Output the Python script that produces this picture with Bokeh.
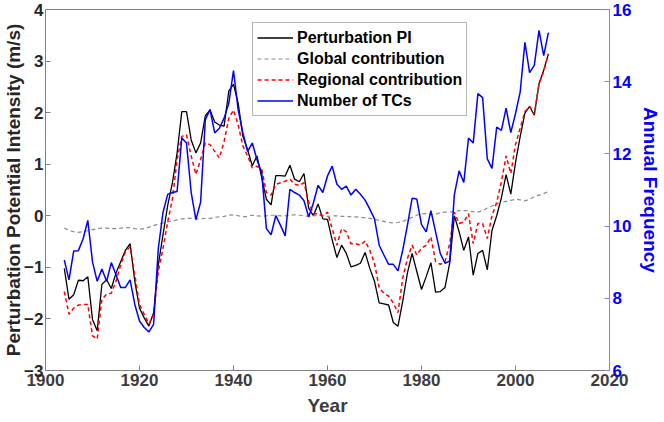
from bokeh.plotting import figure
from bokeh.models import Range1d, LinearAxis, FixedTicker, Legend, LegendItem
from bokeh.embed import file_html
from bokeh.resources import INLINE

years = list(range(1904, 2008))

pert_pi = [-1.02, -1.62, -1.53, -1.25, -1.26, -1.18, -2.01, -2.23, -1.33, -1.24,
           -1.41, -1.11, -0.89, -0.67, -0.54, -1.27, -1.79, -1.98, -2.14, -1.88,
           -0.95, -0.37, 0.20, 0.64, 1.22, 2.02, 2.02, 1.47, 1.22, 1.41,
           1.94, 2.05, 1.82, 1.76, 1.74, 2.42, 2.55, 2.18, 1.54, 1.28,
           0.97, 1.16, 0.74, 0.32, 0.21, 0.78, 0.78, 0.77, 0.98, 0.71,
           0.66, 0.82, 0.15, 0.00, 0.23, -0.06, -0.07, -0.47, -0.81, -0.57,
           -0.73, -0.99, -0.96, -0.92, -0.71, -1.02, -1.27, -1.69, -1.71, -1.73,
           -2.07, -2.14, -1.66, -1.11, -0.73, -1.08, -1.43, -1.18, -0.91, -1.48,
           -1.47, -1.39, -0.92, 0.00, -0.31, -0.67, -0.41, -1.15, -0.73, -0.67,
           -1.05, -0.28, 0.00, 0.35, 0.80, 0.42, 1.03, 1.54, 1.99, 2.12,
           1.95, 2.56, 2.82, 3.14]

global_contrib = [-0.24, -0.28, -0.31, -0.32, -0.31, -0.29, -0.27, -0.25, -0.24, -0.24,
                  -0.25, -0.25, -0.24, -0.23, -0.23, -0.25, -0.26, -0.25, -0.22, -0.19,
                  -0.16, -0.14, -0.12, -0.10, -0.08, -0.06, -0.05, -0.05, -0.06, -0.06,
                  -0.05, -0.05, -0.03, -0.02, -0.01, 0.01, 0.02, 0.00, -0.02, -0.01,
                  0.01, 0.00, -0.01, 0.00, 0.01, 0.01, 0.00, 0.00, 0.01, 0.02,
                  0.01, 0.00, -0.01, 0.00, 0.01, 0.00, -0.01, 0.00, 0.00, -0.01,
                  -0.01, -0.02, -0.02, -0.03, -0.04, -0.05, -0.07, -0.09, -0.11, -0.13,
                  -0.14, -0.13, -0.11, -0.07, -0.03, 0.01, 0.04, 0.04, 0.02, 0.03,
                  0.06, 0.07, 0.07, 0.08, 0.10, 0.10, 0.10, 0.08, 0.07, 0.10,
                  0.15, 0.19, 0.23, 0.26, 0.28, 0.30, 0.32, 0.31, 0.29, 0.32,
                  0.37, 0.40, 0.43, 0.47]

regional_contrib = [-1.47, -1.91, -1.79, -1.73, -1.72, -1.72, -2.33, -2.39, -1.62, -1.52,
                    -1.50, -1.27, -0.95, -0.70, -0.60, -1.15, -1.72, -1.91, -2.10, -1.91,
                    -1.08, -0.63, -0.12, 0.32, 1.09, 1.54, 1.57, 1.16, 0.80, 1.09,
                    1.41, 1.38, 1.25, 1.12, 1.44, 1.89, 2.05, 1.76, 1.35, 1.16,
                    0.93, 0.96, 0.90, 0.45, 0.40, 0.61, 0.64, 0.67, 0.71, 0.61,
                    0.59, 0.64, 0.26, 0.04, 0.04, 0.00, 0.07, -0.25, -0.57, -0.25,
                    -0.31, -0.54, -0.54, -0.57, -0.49, -0.67, -0.92, -1.40, -1.50, -1.56,
                    -1.69, -1.88, -1.21, -0.83, -0.57, -0.76, -0.63, -0.57, -0.41, -0.89,
                    -0.94, -0.89, -0.54, 0.07, -0.15, -0.12, 0.04, -0.54, -0.15, -0.15,
                    -0.44, 0.00, 0.26, 0.66, 1.16, 0.82, 1.38, 1.70, 2.02, 2.12,
                    1.97, 2.56, 2.80, 3.14]

num_tcs = [9.06, 8.51, 9.31, 9.32, 9.65, 10.16, 9.01, 8.47, 8.81, 8.47,
           8.99, 8.65, 8.30, 8.30, 8.51, 7.83, 7.37, 7.19, 7.07, 7.28,
           9.38, 10.38, 10.88, 10.93, 10.96, 12.44, 12.30, 10.93, 10.18, 10.66,
           12.94, 13.23, 12.58, 12.71, 12.99, 13.40, 14.31, 13.21, 12.58, 12.07,
           12.30, 11.84, 11.48, 9.93, 9.76, 10.29, 10.02, 9.73, 11.02, 10.93,
           10.86, 10.70, 10.25, 10.64, 11.13, 10.93, 11.39, 11.66, 11.16, 11.02,
           11.11, 10.86, 11.02, 10.88, 10.72, 10.47, 10.20, 9.47, 9.20, 8.94,
           8.94, 8.76, 9.33, 10.02, 10.77, 10.75, 10.04, 9.84, 10.43, 9.84,
           9.24, 8.97, 9.03, 10.88, 11.53, 11.21, 12.44, 12.30, 13.67, 13.56,
           11.86, 11.60, 12.74, 12.65, 13.27, 12.59, 13.12, 13.72, 15.09, 14.25,
           14.45, 15.42, 14.72, 15.36]

x_ticks = [1900, 1920, 1940, 1960, 1980, 2000, 2020]
left_ticks = [-3, -2, -1, 0, 1, 2, 3, 4]
right_ticks = [6, 8, 10, 12, 14, 16]

FONT = "Liberation Sans"
AXIS_GRAY = "#808080"

p = figure(width=664, height=422, x_range=Range1d(1900, 2020), y_range=Range1d(-3, 4),
           output_backend="svg", toolbar_location=None,
           min_border_left=0, min_border_right=54, min_border_top=9, min_border_bottom=52)
p.extra_y_ranges = {"freq": Range1d(6, 16)}
p.grid.visible = False
p.outline_line_color = AXIS_GRAY
p.outline_line_width = 1
p.background_fill_color = "white"


def style_axis(ax, label, text_color, line_color):
    ax.axis_label = label
    ax.major_tick_in = 5
    ax.major_tick_out = 0
    ax.minor_tick_in = 0
    ax.minor_tick_out = 0
    ax.axis_line_color = line_color
    ax.major_tick_line_color = line_color
    ax.major_label_text_font = FONT
    ax.major_label_text_font_style = "bold"
    ax.major_label_text_font_size = "17px"
    ax.major_label_text_color = text_color
    ax.major_label_standoff = 3
    ax.axis_label_text_font = FONT
    ax.axis_label_text_font_style = "bold"
    ax.axis_label_text_font_size = "19px"
    ax.axis_label_text_color = text_color
    ax.axis_label_standoff = 0


xax = p.xaxis[0]
xax.ticker = FixedTicker(ticks=x_ticks)
style_axis(xax, "Year", "#3c3c3c", AXIS_GRAY)
xax.axis_label_standoff = 6

yax = p.yaxis[0]
yax.ticker = FixedTicker(ticks=left_ticks)
style_axis(yax, "Perturbation Potential Intensity (m/s)", "#262626", AXIS_GRAY)
yax.major_label_standoff = 2
yax.axis_label_standoff = -3

rax = LinearAxis(y_range_name="freq", ticker=FixedTicker(ticks=right_ticks))
style_axis(rax, "Annual Frequency", "#0000ff", "#7f7fff")
rax.axis_label_standoff = 6
p.add_layout(rax, "right")

r_pi = p.line(years, pert_pi, line_color="black", line_width=1.3)
r_gl = p.line(years, global_contrib, line_color="#8c8c8c", line_width=1.2, line_dash="4 3")
r_rg = p.line(years, regional_contrib, line_color="#ff0000", line_width=1.5, line_dash="4 3")
r_tc = p.line(years, num_tcs, line_color="#0000ff", line_width=1.5, y_range_name="freq")

legend = Legend(items=[
    LegendItem(label="Perturbation PI", renderers=[r_pi]),
    LegendItem(label="Global contribution", renderers=[r_gl]),
    LegendItem(label="Regional contribution", renderers=[r_rg]),
    LegendItem(label="Number of TCs", renderers=[r_tc]),
], location=(207, 254))
legend.label_text_font = FONT
legend.label_text_font_style = "bold"
legend.label_text_font_size = "16px"
legend.label_text_color = "black"
legend.glyph_width = 36
legend.glyph_height = 21
legend.label_height = 21
legend.spacing = 0
legend.padding = 4
legend.margin = 0
legend.label_standoff = 4
legend.border_line_color = "#6e6e6e"
legend.border_line_width = 1
legend.background_fill_color = "white"
legend.background_fill_alpha = 1
p.add_layout(legend)

open("out.html", "w").write(file_html(p, INLINE))
